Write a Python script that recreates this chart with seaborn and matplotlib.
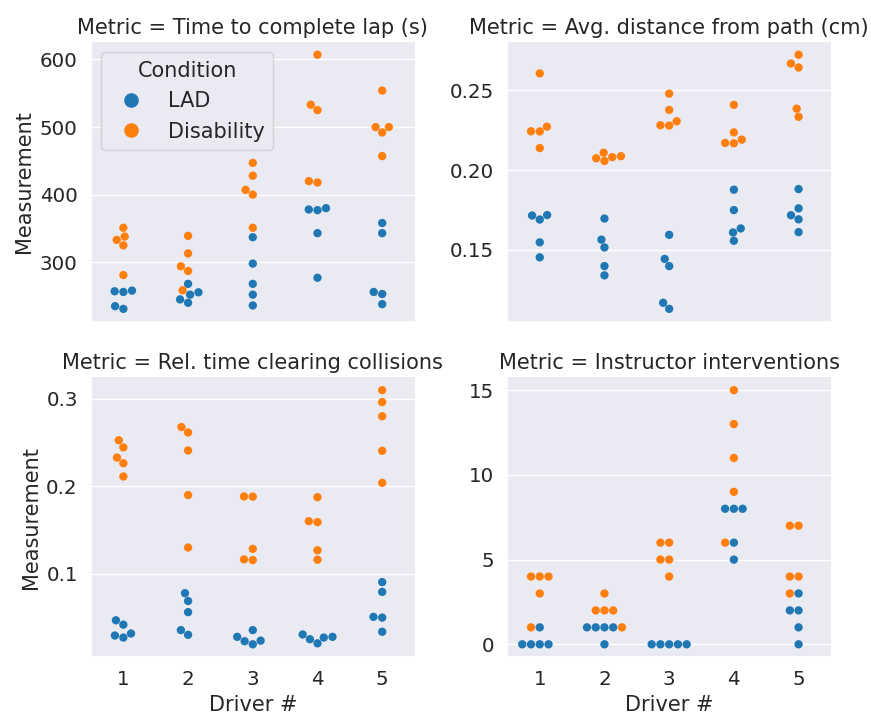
import numpy as np
import pandas as pd
import seaborn as sns
import matplotlib.pyplot as plt
from matplotlib.lines import Line2D
from matplotlib.ticker import MaxNLocator

drivers = [1, 2, 3, 4, 5]
conditions = ["LAD", "Disability"]
metrics = [
    "Time to complete lap (s)",
    "Avg. distance from path (cm)",
    "Rel. time clearing collisions",
    "Instructor interventions",
]

# Five trials per driver and condition
lap_time_lad = [
    [257, 256, 258, 235, 231],
    [268, 255.5, 252, 245, 240],
    [337, 298, 268, 252, 236],
    [378, 377, 380, 343, 277],
    [358, 343, 256, 253, 238],
]
lap_time_dis = [
    [351, 333, 338, 325, 281],
    [339, 313, 294, 287, 258.5],
    [447, 428, 407, 400, 351],
    [607, 533, 525, 418, 420],
    [554, 500, 500, 492, 457],
]
distance_lad = [
    [0.1715, 0.169, 0.1718, 0.1547, 0.1453],
    [0.1696, 0.1564, 0.1515, 0.1398, 0.1340],
    [0.1594, 0.1443, 0.1398, 0.1168, 0.1130],
    [0.1877, 0.1749, 0.1634, 0.1609, 0.1557],
    [0.1881, 0.1760, 0.1691, 0.1717, 0.1611],
]
distance_dis = [
    [0.2606, 0.2243, 0.2242, 0.2272, 0.2138],
    [0.2074, 0.2109, 0.2057, 0.2081, 0.2087],
    [0.2479, 0.2377, 0.2281, 0.2279, 0.2306],
    [0.2409, 0.2236, 0.2170, 0.2168, 0.2191],
    [0.2723, 0.2668, 0.2643, 0.2385, 0.2334],
]
collisions_lad = [
    [0.0471, 0.0421, 0.0297, 0.0274, 0.0320],
    [0.0780, 0.0691, 0.0564, 0.0359, 0.0305],
    [0.0359, 0.0282, 0.0239, 0.0197, 0.0232],
    [0.0309, 0.0255, 0.0208, 0.0274, 0.0282],
    [0.0907, 0.0795, 0.0510, 0.0502, 0.0340],
]
collisions_dis = [
    [0.2525, 0.2444, 0.2328, 0.2263, 0.2112],
    [0.2676, 0.2614, 0.2409, 0.1900, 0.1301],
    [0.1884, 0.1882, 0.1286, 0.1166, 0.1158],
    [0.1876, 0.1591, 0.1602, 0.1270, 0.1162],
    [0.3097, 0.2961, 0.2799, 0.2405, 0.2039],
]
interventions_lad = [
    [0, 0, 0, 0, 1],
    [1, 1, 1, 1, 0],
    [0, 0, 0, 0, 0],
    [8, 8, 8, 6, 5],
    [3, 2, 2, 1, 0],
]
interventions_dis = [
    [4, 4, 4, 3, 1],
    [3, 2, 2, 2, 1],
    [6, 6, 5, 5, 4],
    [15, 13, 11, 9, 6],
    [7, 7, 4, 4, 3],
]

series = {
    metrics[0]: (lap_time_lad, lap_time_dis),
    metrics[1]: (distance_lad, distance_dis),
    metrics[2]: (collisions_lad, collisions_dis),
    metrics[3]: (interventions_lad, interventions_dis),
}

rows = []
for metric, (lad, dis) in series.items():
    for cond, table in zip(conditions, (lad, dis)):
        for drv, vals in zip(drivers, table):
            for v in vals:
                rows.append({"Driver #": drv, "Condition": cond,
                             "Metric": metric, "Measurement": v})
df = pd.DataFrame(rows)

sns.set_theme(style="darkgrid", context="notebook", font_scale=1.3)
plt.rcParams["font.family"] = ["DejaVu Sans"]
plt.rcParams.update({
    "axes.titlesize": 15,
    "axes.labelsize": 15,
    "xtick.labelsize": 14.3,
    "ytick.labelsize": 14.3,
    "legend.fontsize": 15,
    "legend.title_fontsize": 15,
})

palette = dict(zip(conditions, sns.color_palette("tab10")[:2]))

g = sns.catplot(
    data=df, x="Driver #", y="Measurement", hue="Condition",
    col="Metric", col_wrap=2, col_order=metrics, hue_order=conditions,
    kind="swarm", sharey=False, size=6, palette=palette, legend=False,
    height=3.5, aspect=1.1,
)
g.figure.set_size_inches(8.71, 7.16)
g.figure.subplots_adjust(left=0.1045, right=0.954, bottom=0.0824,
                         top=0.9413, wspace=0.287, hspace=0.2)

for ax in g.axes.flat:
    ax.yaxis.set_major_locator(MaxNLocator(nbins=6, steps=[1, 2, 2.5, 5, 10]))

handles = [Line2D([], [], marker="o", linestyle="", markersize=10.5,
                  markerfacecolor=palette[c], markeredgewidth=0, label=c)
           for c in conditions]
g.axes[0].legend(handles=handles, title="Condition", loc="upper left")

g.figure.savefig("out.png", dpi=100)
